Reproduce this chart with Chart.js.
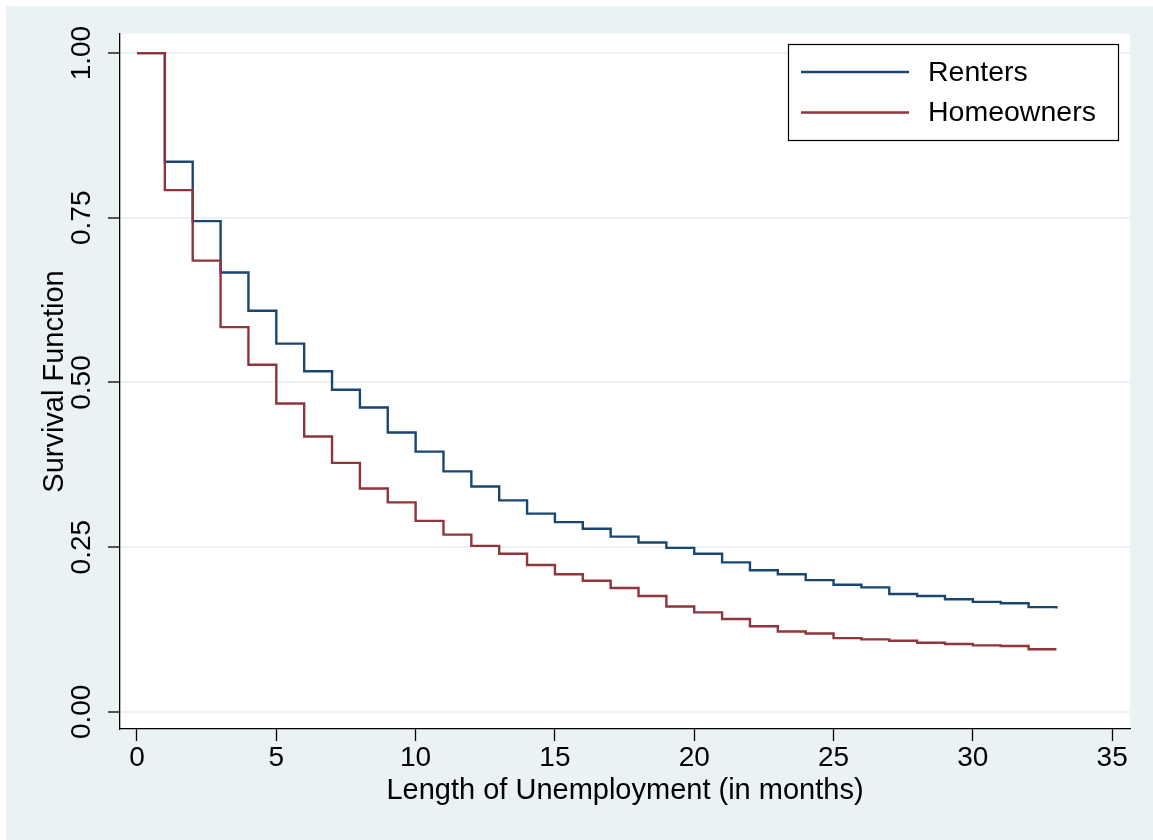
<!DOCTYPE html>
<html lang="en">
<head>
    <meta charset="UTF-8">
    <title>Survival Function: Renters vs Homeowners</title>
    <script src="https://cdn.jsdelivr.net/npm/chart.js@4.4.0/dist/chart.umd.min.js"></script>
    <style>
        body { margin: 0; background: #fff; }
        #wrap { width: 1153px; height: 840px; }
    </style>
</head>
<body>
    <div id="wrap"><canvas id="survChart" width="1153" height="840"></canvas></div>

    <script>
        // months since start of unemployment
        const months = [0, 1, 2, 3, 4, 5, 6, 7, 8, 9, 10, 11, 12, 13, 14, 15, 16,
            17, 18, 19, 20, 21, 22, 23, 24, 25, 26, 27, 28, 29, 30, 31, 32, 33];

        // Kaplan-Meier estimates
        const renters = [1.00, 0.835, 0.745, 0.667, 0.609, 0.559, 0.517, 0.489, 0.462, 0.424,
            0.395, 0.365, 0.342, 0.321, 0.301, 0.288, 0.278, 0.266, 0.257, 0.249,
            0.240, 0.227, 0.215, 0.209, 0.200, 0.193, 0.189, 0.179, 0.176, 0.171,
            0.167, 0.165, 0.159, 0.157];
        const homeowners = [1.00, 0.792, 0.685, 0.584, 0.527, 0.468, 0.418, 0.378, 0.339, 0.318,
            0.290, 0.269, 0.252, 0.240, 0.223, 0.209, 0.199, 0.188, 0.176, 0.160,
            0.151, 0.141, 0.130, 0.122, 0.119, 0.112, 0.110, 0.108, 0.105, 0.103,
            0.101, 0.100, 0.095, 0.095];

        const seriesLabels = ['Renters', 'Homeowners'];
        const xTicks = [0, 5, 10, 15, 20, 25, 30, 35];
        const yTicks = [0, 0.25, 0.5, 0.75, 1];

        const BG = '#eaf2f3';
        const FONT = "'Liberation Sans', Arial, sans-serif";
        Chart.defaults.font.family = FONT;
        Chart.defaults.color = '#000';

        function toPoints(ys) {
            return months.map((m, i) => ({ x: m, y: ys[i] }));
        }

        // stata-ish background: light outer region, white plot region
        const backdrop = {
            id: 'backdrop',
            beforeDraw(chart) {
                const { ctx, width, height, chartArea: a } = chart;
                ctx.save();
                ctx.fillStyle = '#fff';
                ctx.fillRect(0, 0, width, height);
                ctx.fillStyle = BG;
                ctx.fillRect(6, 6, width - 6, height - 6);
                ctx.fillStyle = '#fff';
                ctx.fillRect(a.left, a.top, a.right - a.left, a.bottom - a.top);
                ctx.restore();
            }
        };

        // boxed legend inside the plot region, top right
        const boxLegend = {
            id: 'boxLegend',
            afterDraw(chart) {
                const { ctx } = chart;
                const sets = chart.data.datasets;
                const x = 788, y = 44, w = 330, h = 96;
                ctx.save();
                ctx.fillStyle = '#fff';
                ctx.fillRect(x, y, w, h);
                ctx.strokeStyle = '#000';
                ctx.lineWidth = 1.2;
                ctx.strokeRect(x + 0.5, y + 0.5, w, h);
                ctx.font = '28.5px ' + FONT;
                ctx.textBaseline = 'middle';
                sets.forEach((ds, i) => {
                    const ly = 72 + i * 40.5;
                    ctx.strokeStyle = ds.borderColor;
                    ctx.lineWidth = 2.4;
                    ctx.beginPath();
                    ctx.moveTo(801, ly);
                    ctx.lineTo(909, ly);
                    ctx.stroke();
                    ctx.fillStyle = '#000';
                    ctx.fillText(ds.label, 928, ly + 1);
                });
                ctx.restore();
            }
        };

        const ctx = document.getElementById('survChart').getContext('2d');
        new Chart(ctx, {
            type: 'line',
            data: {
                datasets: [{
                    label: seriesLabels[0],
                    data: toPoints(renters),
                    borderColor: '#1a476f',
                    borderWidth: 2.4,
                    stepped: 'before',
                    pointRadius: 0,
                    fill: false,
                    order: 1
                }, {
                    label: seriesLabels[1],
                    data: toPoints(homeowners),
                    borderColor: '#90353b',
                    borderWidth: 2.4,
                    stepped: 'before',
                    pointRadius: 0,
                    fill: false,
                    order: 0
                }]
            },
            options: {
                responsive: false,
                animation: false,
                events: [],
                layout: { padding: { top: 34, right: 23, left: 0, bottom: 0 } },
                plugins: {
                    legend: { display: false },
                    tooltip: { enabled: false }
                },
                scales: {
                    x: {
                        type: 'linear',
                        min: -0.61,
                        max: 35.64,
                        afterFit(scale) { scale.height = 111; },
                        afterBuildTicks(scale) { scale.ticks = xTicks.map(v => ({ value: v })); },
                        border: { display: true, color: '#000', width: 1.3 },
                        grid: { drawOnChartArea: false, color: 'rgba(0,0,0,0)', tickColor: '#000', tickLength: 12, tickWidth: 1.3 },
                        ticks: { font: { size: 28 }, padding: 0, maxRotation: 0 },
                        title: {
                            display: true,
                            text: 'Length of Unemployment (in months)',
                            font: { size: 29 },
                            padding: { top: 0, bottom: 32 }
                        }
                    },
                    y: {
                        type: 'linear',
                        min: -0.026,
                        max: 1.029,
                        afterFit(scale) { scale.width = 120; },
                        afterBuildTicks(scale) { scale.ticks = yTicks.map(v => ({ value: v })); },
                        border: { display: true, color: '#000', width: 1.3 },
                        grid: { color: BG, lineWidth: 2, tickColor: '#000', tickLength: 12, tickWidth: 1.3 },
                        ticks: {
                            font: { size: 28 },
                            minRotation: 90,
                            maxRotation: 90,
                            crossAlign: 'center',
                            padding: -2,
                            callback: v => v.toFixed(2)
                        },
                        title: {
                            display: true,
                            text: 'Survival Function',
                            font: { size: 29 },
                            padding: { top: 38, bottom: 0 }
                        }
                    }
                }
            },
            plugins: [backdrop, boxLegend]
        });
    </script>
</body>
</html>
